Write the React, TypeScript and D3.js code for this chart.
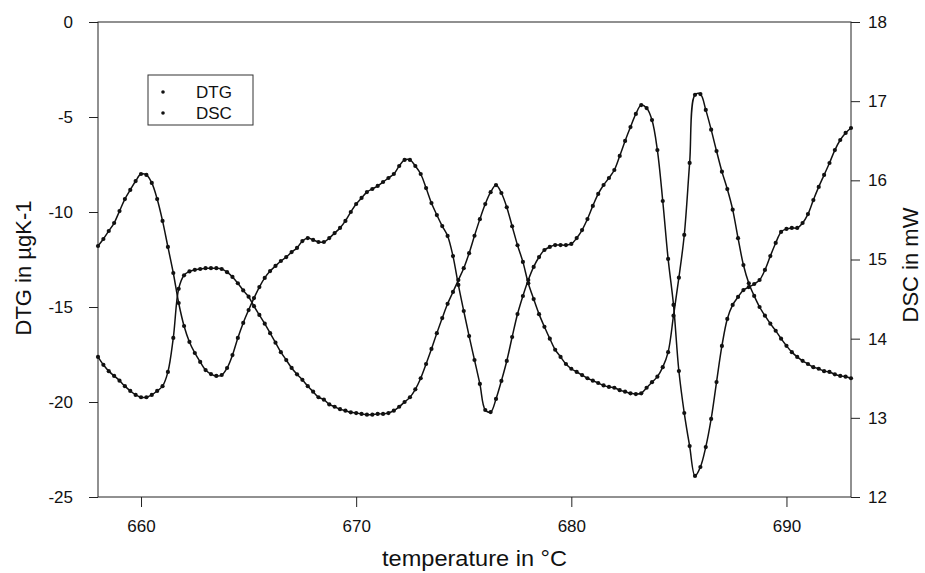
import React, { useEffect, useRef } from "react";
import * as d3 from "d3";

// temperature grid, 0.25 °C steps from 658 to 693
const temps = d3.range(141).map((i) => 658 + i * 0.25);

// DTG in µg/K (left axis), 4 values per degree
const dtg = [
  -11.79, -11.42, -11.0, -10.58, // 658
  -9.95, -9.32, -8.84, -8.37, // 659
  -8.0, -8.05, -8.47, -9.32, // 660
  -10.47, -11.84, -13.21, -14.79, // 661
  -16.0, -16.84, -17.42, -17.89, // 662
  -18.32, -18.53, -18.63, -18.58, // 663
  -18.21, -17.53, -16.63, -15.84, // 664
  -15.16, -14.53, -13.95, -13.47, // 665
  -13.11, -12.84, -12.58, -12.37, // 666
  -12.11, -11.89, -11.53, -11.37, // 667
  -11.47, -11.58, -11.58, -11.37, // 668
  -11.11, -10.84, -10.47, -10.0, // 669
  -9.58, -9.26, -8.95, -8.79, // 670
  -8.63, -8.42, -8.21, -8.0, // 671
  -7.58, -7.26, -7.26, -7.58, // 672
  -8.0, -8.74, -9.53, -10.16, // 673
  -10.74, -11.26, -12.32, -13.84, // 674
  -15.21, -16.53, -17.79, -19.05, // 675
  -20.42, -20.53, -19.84, -18.89, // 676
  -17.84, -16.58, -15.37, -14.42, // 677
  -13.58, -12.89, -12.37, -12.0, // 678
  -11.84, -11.74, -11.74, -11.74, // 679
  -11.68, -11.37, -10.95, -10.37, // 680
  -9.68, -9.05, -8.58, -8.21, // 681
  -7.79, -7.05, -6.26, -5.53, // 682
  -4.84, -4.37, -4.53, -5.16, // 683
  -6.74, -9.42, -12.47, -14.89, // 684
  -18.37, -20.58, -22.32, -23.89, // 685
  -23.42, -22.37, -20.89, -18.95, // 686
  -17.05, -15.63, -14.89, -14.47, // 687
  -14.11, -13.95, -13.79, -13.58, // 688
  -13.05, -12.32, -11.63, -11.05, // 689
  -10.89, -10.84, -10.84, -10.58, // 690
  -10.11, -9.37, -8.68, -8.05, // 691
  -7.42, -6.74, -6.21, -5.84, // 692
  -5.58, // 693
];

// DSC in mW (right axis)
const dsc = [
  13.77, 13.67, 13.59, 13.53, // 658
  13.47, 13.4, 13.34, 13.29, // 659
  13.26, 13.26, 13.29, 13.34, // 660
  13.4, 13.58, 14.01, 14.63, // 661
  14.8, 14.85, 14.87, 14.88, // 662
  14.89, 14.89, 14.89, 14.88, // 663
  14.84, 14.78, 14.7, 14.61, // 664
  14.53, 14.41, 14.3, 14.19, // 665
  14.07, 13.95, 13.83, 13.73, // 666
  13.63, 13.55, 13.48, 13.4, // 667
  13.33, 13.26, 13.23, 13.17, // 668
  13.14, 13.11, 13.09, 13.07, // 669
  13.06, 13.05, 13.04, 13.04, // 670
  13.05, 13.05, 13.06, 13.09, // 671
  13.14, 13.2, 13.26, 13.36, // 672
  13.5, 13.68, 13.87, 14.07, // 673
  14.26, 14.44, 14.59, 14.74, // 674
  14.89, 15.08, 15.3, 15.51, // 675
  15.7, 15.85, 15.94, 15.84, // 676
  15.66, 15.42, 15.18, 14.97, // 677
  14.7, 14.5, 14.31, 14.15, // 678
  14.0, 13.86, 13.77, 13.68, // 679
  13.62, 13.58, 13.54, 13.5, // 680
  13.47, 13.44, 13.41, 13.39, // 681
  13.38, 13.35, 13.33, 13.31, // 682
  13.3, 13.31, 13.38, 13.45, // 683
  13.52, 13.64, 13.83, 14.29, // 684
  14.77, 15.31, 16.22, 17.08, // 685
  17.09, 16.89, 16.64, 16.37, // 686
  16.11, 15.89, 15.63, 15.27, // 687
  14.93, 14.7, 14.54, 14.4, // 688
  14.29, 14.19, 14.1, 14.0, // 689
  13.91, 13.83, 13.77, 13.72, // 690
  13.68, 13.64, 13.62, 13.59, // 691
  13.58, 13.55, 13.53, 13.52, // 692
  13.5, // 693
];

const xTicks = [660, 670, 680, 690];
const leftTicks = [0, -5, -10, -15, -20, -25];
const rightTicks = [12, 13, 14, 15, 16, 17, 18];
const seriesNames = ["DTG", "DSC"];

const FONT = "'Liberation Sans', Arial, Helvetica, sans-serif";

export default function App() {
  const svgRef = useRef<SVGSVGElement>(null);

  useEffect(() => {
    const svg = d3.select(svgRef.current);
    svg.selectAll("*").remove();

    const W = 925;
    const H = 573;
    const plot = { left: 98, right: 851, top: 22, bottom: 497 };

    svg.attr("width", W).attr("height", H);
    svg.append("rect").attr("width", W).attr("height", H).attr("fill", "#fff");

    const x = d3.scaleLinear().domain([658, 693]).range([plot.left, plot.right]);
    const yL = d3.scaleLinear().domain([-25, 0]).range([plot.bottom, plot.top]);
    const yR = d3.scaleLinear().domain([12, 18]).range([plot.bottom, plot.top]);

    const styleAxis = (g) => {
      g.select(".domain").remove();
      g.selectAll("line").attr("stroke", "#222").attr("stroke-width", 1);
      g.selectAll("text")
        .attr("font-family", FONT)
        .attr("font-size", 17)
        .attr("fill", "#111");
    };

    // axes
    svg
      .append("g")
      .attr("transform", `translate(${plot.left},0)`)
      .call(
        d3.axisLeft(yL).tickValues(leftTicks).tickSize(9).tickPadding(16).tickFormat((d) => String(d))
      )
      .call(styleAxis);

    svg
      .append("g")
      .attr("transform", `translate(0,${plot.bottom})`)
      .call(d3.axisBottom(x).tickValues(xTicks).tickSize(10).tickPadding(13).tickFormat((d) => String(d)))
      .call(styleAxis);

    svg
      .append("g")
      .attr("transform", `translate(${plot.right},0)`)
      .call(d3.axisRight(yR).tickValues(rightTicks).tickSize(9).tickPadding(8).tickFormat((d) => String(d)))
      .call(styleAxis);

    // frame
    svg
      .append("rect")
      .attr("x", plot.left)
      .attr("y", plot.top)
      .attr("width", plot.right - plot.left)
      .attr("height", plot.bottom - plot.top)
      .attr("fill", "none")
      .attr("stroke", "#222")
      .attr("stroke-width", 1);

    // series
    const series = [
      { name: "DTG", values: dtg, y: yL },
      { name: "DSC", values: dsc, y: yR },
    ];

    series.forEach((s) => {
      const pts = temps.map((t, i) => [t, s.values[i]]);
      const line = d3
        .line()
        .x((d) => x(d[0]))
        .y((d) => s.y(d[1]))
        .curve(d3.curveCatmullRom);
      const g = svg.append("g");
      g.append("path")
        .attr("d", line(pts))
        .attr("fill", "none")
        .attr("stroke", "#111")
        .attr("stroke-width", 1.5);
      g.selectAll("circle")
        .data(pts)
        .join("circle")
        .attr("cx", (d) => x(d[0]))
        .attr("cy", (d) => s.y(d[1]))
        .attr("r", 2.1)
        .attr("fill", "#111");
    });

    // legend
    const lg = svg.append("g");
    lg.append("rect")
      .attr("x", 148)
      .attr("y", 75)
      .attr("width", 105)
      .attr("height", 50)
      .attr("fill", "#fff")
      .attr("stroke", "#333")
      .attr("stroke-width", 1);
    seriesNames.forEach((name, i) => {
      const cy = 92 + i * 21;
      lg.append("circle").attr("cx", 163).attr("cy", cy).attr("r", 1.8).attr("fill", "#111");
      lg.append("text")
        .attr("x", 196)
        .attr("y", cy + 6)
        .attr("font-family", FONT)
        .attr("font-size", 17)
        .attr("fill", "#111")
        .text(name);
    });

    // titles
    svg
      .append("text")
      .attr("x", (plot.left + plot.right) / 2)
      .attr("y", 566)
      .attr("text-anchor", "middle")
      .attr("font-family", FONT)
      .attr("font-size", 22)
      .attr("textLength", 185)
      .attr("lengthAdjust", "spacingAndGlyphs")
      .attr("fill", "#111")
      .text("temperature in °C");

    svg
      .append("text")
      .attr("transform", "translate(31,268) rotate(-90)")
      .attr("text-anchor", "middle")
      .attr("font-family", FONT)
      .attr("font-size", 22)
      .attr("fill", "#111")
      .text("DTG in µgK-1");

    svg
      .append("text")
      .attr("transform", "translate(918,265) rotate(-90)")
      .attr("text-anchor", "middle")
      .attr("font-family", FONT)
      .attr("font-size", 22)
      .attr("fill", "#111")
      .text("DSC in mW");
  }, []);

  return (
    <svg
      ref={svgRef}
      style={{ position: "absolute", left: 0, top: 0, display: "block" }}
    />
  );
}
